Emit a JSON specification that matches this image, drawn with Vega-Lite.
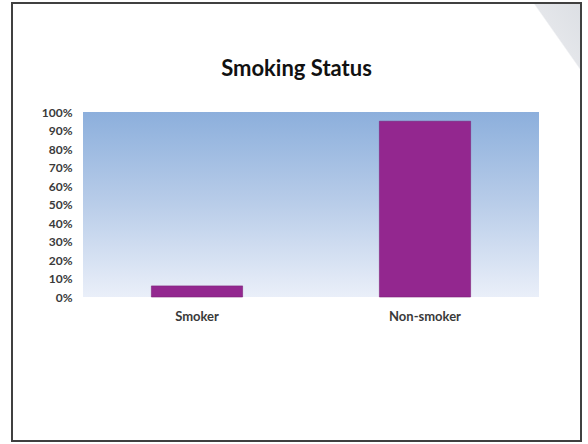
{
  "$schema": "https://vega.github.io/schema/vega-lite/v6.json",
  "width": 569,
  "height": 438,
  "autosize": "none",
  "padding": {"left": 12, "top": 3, "right": 7, "bottom": 3},
  "background": "white",
  "title": {
    "text": "Smoking Status",
    "anchor": "middle",
    "offset": -95,
    "baseline": "alphabetic",
    "font": "Lato",
    "fontSize": 22,
    "fontWeight": "bold",
    "color": "#111111"
  },
  "config": {
    "view": {
      "stroke": "#404040",
      "strokeWidth": 2,
      "fill": {
        "gradient": "linear",
        "x1": 0.869, "y1": 0.023, "x2": 0.98, "y2": -0.037,
        "stops": [
          {"offset": 0, "color": "#ffffff"},
          {"offset": 0.41, "color": "#ffffff"},
          {"offset": 0.43, "color": "#e4e6ea"},
          {"offset": 1, "color": "#dcdfe4"}
        ]
      }
    },
    "axis": {
      "labelFont": "Lato",
      "labelFontWeight": "bold",
      "labelFontSize": 12,
      "labelColor": "#3a3a3a",
      "domain": false,
      "ticks": false,
      "grid": false
    }
  },
  "encoding": {
    "y": {
      "field": "pct",
      "type": "quantitative",
      "title": null,
      "scale": {"domain": [0, 100], "range": [294, 109], "nice": false},
      "axis": {
        "orient": "left",
        "offset": -71,
        "labelPadding": 11,
        "values": [0, 10, 20, 30, 40, 50, 60, 70, 80, 90, 100],
        "labelExpr": "datum.value + '%'"
      }
    }
  },
  "layer": [
    {
      "data": {"values": [{"left": 0, "right": 1, "pct": 100, "base": 0}]},
      "mark": {
        "type": "rect",
        "color": {
          "gradient": "linear",
          "x1": 0, "y1": 0, "x2": 0, "y2": 1,
          "stops": [
            {"offset": 0, "color": "#8cafdc"},
            {"offset": 0.5, "color": "#b9cde9"},
            {"offset": 1, "color": "#eaeff9"}
          ]
        }
      },
      "encoding": {
        "x": {
          "field": "left",
          "type": "quantitative",
          "scale": {"domain": [0, 1], "range": [71, 527]},
          "axis": null
        },
        "x2": {"field": "right"},
        "y2": {"field": "base"}
      }
    },
    {
      "data": {
        "values": [
          {"status": "Smoker", "pct": 6},
          {"status": "Non-smoker", "pct": 95}
        ]
      },
      "mark": {"type": "bar", "color": "#93278f", "stroke": "#7a1f77", "strokeWidth": 0.6},
      "encoding": {
        "x": {
          "field": "status",
          "type": "nominal",
          "sort": ["Smoker", "Non-smoker"],
          "title": null,
          "scale": {"range": [71, 527], "paddingInner": 0.6, "paddingOuter": 0.3},
          "axis": {"orient": "bottom", "offset": -144, "labelPadding": 13, "labelAngle": 0, "labelFontSize": 13}
        }
      }
    }
  ],
  "resolve": {"scale": {"x": "independent"}}
}
